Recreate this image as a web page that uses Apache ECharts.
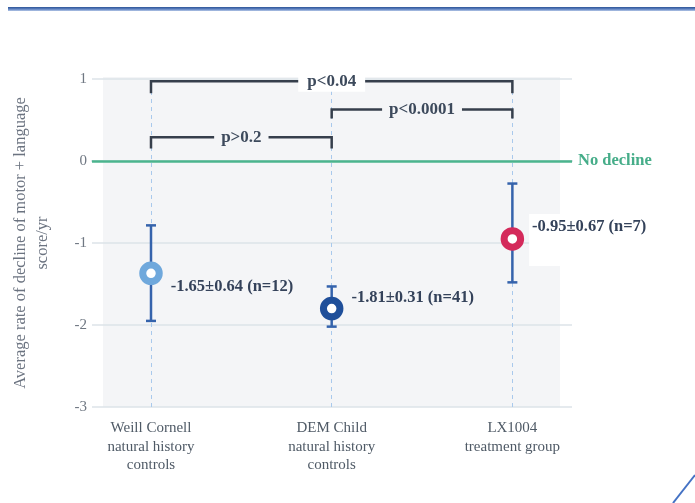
<!DOCTYPE html>
<html>
<head>
<meta charset="utf-8">
<script src="https://cdn.jsdelivr.net/npm/echarts@6/dist/echarts.min.js"></script>
<style>html,body{margin:0;padding:0;background:#fff}#c{width:695px;height:503px}</style>
</head>
<body>
<div id="c"></div>
<script>
// ---- data ----
const categories = ['Weill Cornell\nnatural history\ncontrols', 'DEM Child\nnatural history\ncontrols', 'LX1004\ntreatment group'];
const means = [-1.37, -1.80, -0.95];
const lows = [-1.95, -2.02, -1.48];
const highs = [-0.785, -1.53, -0.275];
const pointLabels = ['-1.65±0.64 (n=12)', '-1.81±0.31 (n=41)', '-0.95±0.67 (n=7)'];
const yTicks = [-3, -2, -1, 0, 1];
const comparisonPairs = [[0, 2], [1, 2], [0, 1]];
const comparisonLabels = ['p<0.04', 'p<0.0001', 'p>0.2'];
const referenceValue = 0;
const referenceLabel = 'No decline';

// ---- style ----
const SERIF = '"Liberation Serif", "DejaVu Serif", serif';
const markerColors = ['#6fa8dc', '#1f4f9a', '#d42a5b'];
const bracketLevels = [[0.973, 0.827], [0.628, 0.518], [0.289, 0.151]];
const bracketLabelBg = ['#ffffff', '#f4f5f7', '#f4f5f7'];
const bracketLabelPad = [[2, 9], [2, 7], [2, 7]];
const labelOffsets = [[0, 13], [0, -11], [0, 1]];

const chart = echarts.init(document.getElementById('c'), null, {renderer: 'canvas'});

const xMin = -0.3265, xMax = 2.330;

const option = {
  animation: false,
  backgroundColor: '#ffffff',
  graphic: [
    {type: 'rect', shape: {x: 8, y: 7, width: 687, height: 4}, silent: true,
      style: {fill: new echarts.graphic.LinearGradient(0, 0, 0, 1, [
        {offset: 0, color: '#2c5496'}, {offset: 0.5, color: '#5b7fc0'}, {offset: 1, color: '#b4c6e6'}])}},
    {type: 'line', shape: {x1: 673, y1: 503, x2: 695, y2: 475}, silent: true,
      style: {stroke: '#4472c4', lineWidth: 2}}
  ],
  grid: [
    {left: 103, right: 135, top: 77, bottom: 96, show: true, backgroundColor: '#f4f5f7', borderWidth: 0},
    {left: 92, right: 123, top: 79, bottom: 96}
  ],
  xAxis: [
    {gridIndex: 0, type: 'value', show: false, min: 0, max: 1},
    {gridIndex: 1, type: 'value', min: xMin, max: xMax,
      axisLine: {show: true, lineStyle: {color: '#dde2e8', width: 2}},
      axisTick: {show: false},
      splitLine: {show: false},
      axisLabel: {
        customValues: [0, 1, 2],
        formatter: v => categories[Math.round(v)] || '',
        fontFamily: SERIF, fontSize: 15, color: '#4f5a66', lineHeight: 18.5, margin: 12
      }}
  ],
  yAxis: [
    {gridIndex: 0, type: 'value', show: false, min: 0, max: 1},
    {gridIndex: 1, type: 'value', min: yTicks[0], max: yTicks[yTicks.length - 1], interval: 1,
      axisLine: {show: false}, axisTick: {show: false},
      splitLine: {show: true, lineStyle: {color: '#dde3e9', width: 1.5}},
      axisLabel: {fontFamily: SERIF, fontSize: 15, color: '#6f7782', margin: 5},
      name: 'Average rate of decline of motor + language\nscore/yr',
      nameLocation: 'middle', nameGap: 38,
      nameTextStyle: {fontFamily: SERIF, fontSize: 16.5, color: '#6b7380', lineHeight: 22}}
  ],
  series: [
    {type: 'line', xAxisIndex: 1, yAxisIndex: 1, data: [], silent: true, z: 1,
      markLine: {silent: true, symbol: 'none', animation: false,
        lineStyle: {color: '#a9c9ec', type: [4, 4], width: 1},
        label: {show: false},
        data: [{xAxis: 0}, {xAxis: 1}, {xAxis: 2}]}},
    {type: 'line', xAxisIndex: 1, yAxisIndex: 1, data: [], silent: true, z: 2,
      markLine: {silent: true, symbol: 'none', animation: false,
        lineStyle: {color: '#4bb48e', type: 'solid', width: 2.5},
        label: {show: true, position: 'end', distance: 6, formatter: referenceLabel,
          fontFamily: SERIF, fontSize: 16.5, fontWeight: 'bold', color: '#46ad89'},
        data: [{yAxis: referenceValue}]}},
    {type: 'custom', xAxisIndex: 1, yAxisIndex: 1, z: 5, silent: true,
      data: comparisonPairs.map((p, i) => [p[0], p[1], i]),
      renderItem: function (params, api) {
        const a = api.value(0), b = api.value(1), i = api.value(2);
        const lv = bracketLevels[i];
        const p1 = api.coord([a, lv[1]]), p2 = api.coord([a, lv[0]]);
        const p3 = api.coord([b, lv[0]]), p4 = api.coord([b, lv[1]]);
        return {type: 'group', children: [
          {type: 'polyline', shape: {points: [p1, p2, p3, p4]},
            style: {stroke: '#363f4c', lineWidth: 2.5, fill: null}},
          {type: 'text', z2: 10, style: {text: comparisonLabels[i], x: (p2[0] + p3[0]) / 2, y: p2[1],
            align: 'center', verticalAlign: 'middle', fill: '#3d4a5c',
            font: 'bold 17px ' + SERIF, backgroundColor: bracketLabelBg[i], padding: bracketLabelPad[i]}}
        ]};
      }},
    {type: 'custom', xAxisIndex: 1, yAxisIndex: 1, z: 6, silent: true,
      data: means.map((m, i) => [i, lows[i], highs[i]]),
      renderItem: function (params, api) {
        const lo = api.coord([api.value(0), api.value(1)]);
        const hi = api.coord([api.value(0), api.value(2)]);
        const hw = 5;
        const st = {stroke: '#3563ac', lineWidth: 2.5};
        return {type: 'group', children: [
          {type: 'line', shape: {x1: lo[0], y1: lo[1], x2: hi[0], y2: hi[1]}, style: st},
          {type: 'line', shape: {x1: lo[0] - hw, y1: lo[1], x2: lo[0] + hw, y2: lo[1]}, style: st},
          {type: 'line', shape: {x1: hi[0] - hw, y1: hi[1], x2: hi[0] + hw, y2: hi[1]}, style: st}
        ]};
      }},
    {type: 'scatter', xAxisIndex: 1, yAxisIndex: 1, z: 8, symbol: 'circle', symbolSize: 16.5,
      data: means.map((m, i) => ({
        value: [i, m],
        itemStyle: {color: '#ffffff', borderColor: markerColors[i], borderWidth: 7, opacity: 1},
        label: Object.assign({show: true, position: 'right', distance: 8, offset: labelOffsets[i],
          formatter: pointLabels[i], fontFamily: SERIF, fontSize: 16.5, fontWeight: 'bold', color: '#34425a'},
          i === 2 ? {
            formatter: '{t|' + pointLabels[i] + '}\n{s|}',
            rich: {t: {fontFamily: SERIF, fontSize: 16.5, fontWeight: 'bold', color: '#34425a', lineHeight: 18},
                   s: {height: 30, lineHeight: 30}},
            backgroundColor: '#ffffff', padding: [4, 30, 0, 3], distance: 5} : {})
      }))}
  ]
};
chart.setOption(option);
</script>
</body>
</html>
